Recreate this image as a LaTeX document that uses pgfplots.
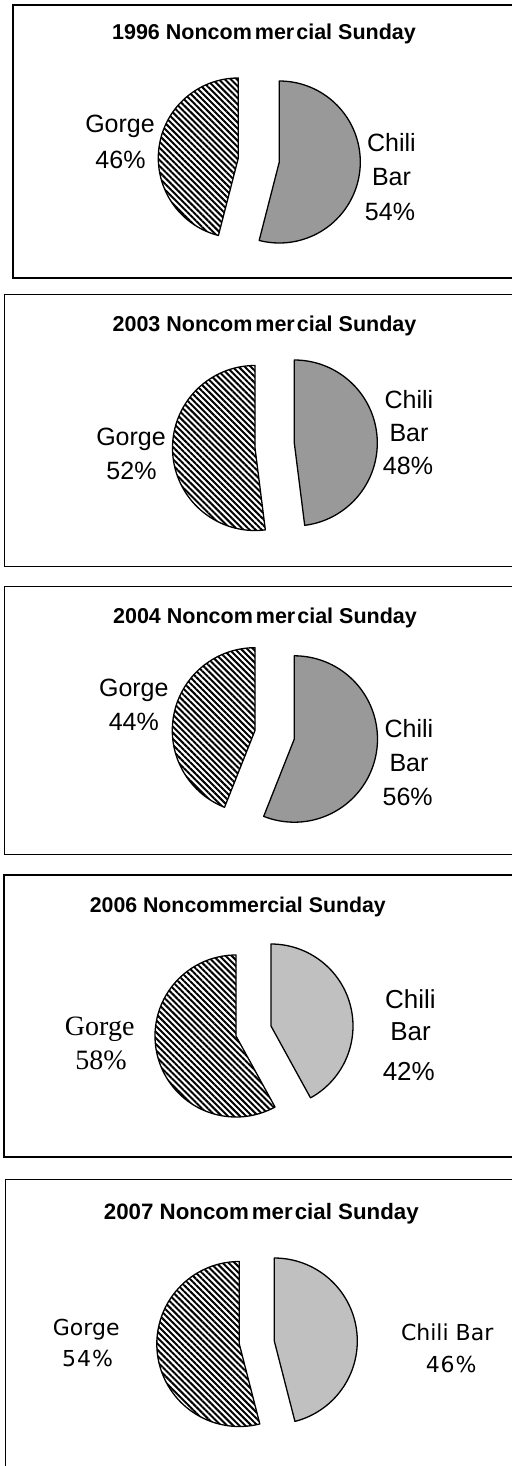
\documentclass[border=0pt]{standalone}
\usepackage{pgfplots}
\pgfplotsset{compat=1.18}
\usetikzlibrary{patterns.meta}
\usepackage{fontspec}
\setmainfont{Liberation Sans}
\newfontfamily\serifface{Liberation Serif}
\newfontfamily\tahface{DejaVu Sans}

\definecolor{chiliA}{RGB}{153,153,153}
\definecolor{chiliB}{RGB}{192,192,192}

\tikzset{gorgefill/.style={pattern={Lines[angle=-45,distance=4.3pt,line width=2pt]},pattern color=black}}

% Gorge slice: counter-clockwise from 12 o'clock, share #4 (%)
\newcommand\gorge[4]{%
 \addplot[gorgefill, draw=black, line width=1.3pt, line join=round,
   domain=90:90+3.6*#4, samples=90, variable=\t]
   ({#1+#3*cos(\t)},{#2-#3*sin(\t)}) -- (axis cs:#1,#2) -- cycle;}
% Chili Bar slice: clockwise from 12 o'clock, share #4 (%)
\newcommand\chili[5]{%
 \addplot[fill=#5, draw=black, line width=1.3pt, line join=round,
   domain=90-3.6*#4:90, samples=90, variable=\t]
   ({#1+#3*cos(\t)},{#2-#3*sin(\t)}) -- (axis cs:#1,#2) -- cycle;}

\newcommand\ttl[3]{\node[anchor=base,font=\fontsize{#3}{#3}\selectfont\bfseries] at (axis cs:#1) {#2};}
\newcommand\lbl[3]{\node[anchor=base,font=\fontsize{#3}{#3}\selectfont] at (axis cs:#1) {#2};}

\begin{document}
\begin{tikzpicture}
\begin{axis}[name=ax, x=1pt, y=1pt, xmin=0, xmax=511, ymin=0, ymax=1466,
  y dir=reverse, hide axis, clip=false]

% ---- frames
\draw[line width=2pt] (axis cs:520,5) -- (axis cs:13,5) -- (axis cs:13,277.5) -- (axis cs:520,277.5);
\draw[line width=0.9pt] (axis cs:520,294) -- (axis cs:4.5,294) -- (axis cs:4.5,566) -- (axis cs:520,566);
\draw[line width=0.9pt] (axis cs:520,586) -- (axis cs:4.5,586) -- (axis cs:4.5,854) -- (axis cs:520,854);
\draw[line width=2pt] (axis cs:520,875) -- (axis cs:3.5,875) -- (axis cs:3.5,1156.5) -- (axis cs:520,1156.5);
\draw[line width=0.9pt] (axis cs:520,1179) -- (axis cs:5.5,1179) -- (axis cs:5.5,1480);

% ---- 1996
\ttl{264,40}{1996 Noncom\kern3pt mer\kern2pt cial Sunday}{21.5}
\gorge{238.3}{158}{80}{46}
\chili{279.3}{162}{81}{54}{chiliA}
\lbl{120,132.5}{Gorge}{25}
\lbl{120.5,168.5}{46\%}{25}
\lbl{391.5,151.7}{Chili}{25}
\lbl{391.5,185.7}{Bar}{25}
\lbl{390,220}{54\%}{25}

% ---- 2003
\ttl{264.5,331.5}{2003 Noncom\kern3pt mer\kern2pt cial Sunday}{21.5}
\gorge{255}{448}{82.5}{52}
\chili{294.3}{443}{83}{48}{chiliA}
\lbl{131,445.7}{Gorge}{25}
\lbl{131.5,479}{52\%}{25}
\lbl{409,408.3}{Chili}{25}
\lbl{409,441.7}{Bar}{25}
\lbl{408,474.3}{48\%}{25}

% ---- 2004
\ttl{265,623.3}{2004 Noncom\kern3pt mer\kern2pt cial Sunday}{21.5}
\gorge{255}{730.4}{82.7}{44}
\chili{294.3}{739}{83.2}{56}{chiliA}
\lbl{133.8,696.7}{Gorge}{25}
\lbl{133.8,730}{44\%}{25}
\lbl{409,737.7}{Chili}{25}
\lbl{409,771}{Bar}{25}
\lbl{407.7,805.7}{56\%}{25}

% ---- 2006
\ttl{237.8,912.7}{2006 Noncommercial Sunday}{21.3}
\gorge{236}{1036}{81}{58}
\chili{271}{1026}{82}{42}{chiliB}
\node[anchor=base,font=\fontsize{28}{28}\selectfont\serifface] at (axis cs:99.7,1035) {Gorge};
\node[anchor=base,font=\fontsize{28}{28}\selectfont\serifface] at (axis cs:101,1069) {58\%};
\lbl{410.5,1008.3}{Chili}{26}
\lbl{410.5,1040}{Bar}{26}
\lbl{408.8,1080.7}{42\%}{26}

% ---- 2007
\ttl{261.3,1219.3}{2007 Noncom\kern3pt mer\kern2pt cial Sunday}{22.3}
\gorge{239.3}{1344}{82.5}{54}
\chili{274.3}{1341}{83}{46}{chiliB}
\node[anchor=base,font=\fontsize{22}{22}\selectfont\tahface] at (axis cs:86.2,1335.7) {Gorge};
\node[anchor=base,font=\fontsize{22}{22}\selectfont\tahface] at (axis cs:87.5,1366.7) {5\kern1pt4\kern1pt\%};
\node[anchor=base,font=\fontsize{22}{22}\selectfont\tahface] at (axis cs:447.2,1340) {Chili Bar};
\node[anchor=base,font=\fontsize{22}{22}\selectfont\tahface] at (axis cs:451.2,1372.3) {4\kern1pt6\kern1pt\%};
\end{axis}
\pgfresetboundingbox
\path (ax.south west) rectangle (ax.north east);
\end{tikzpicture}
\end{document}
